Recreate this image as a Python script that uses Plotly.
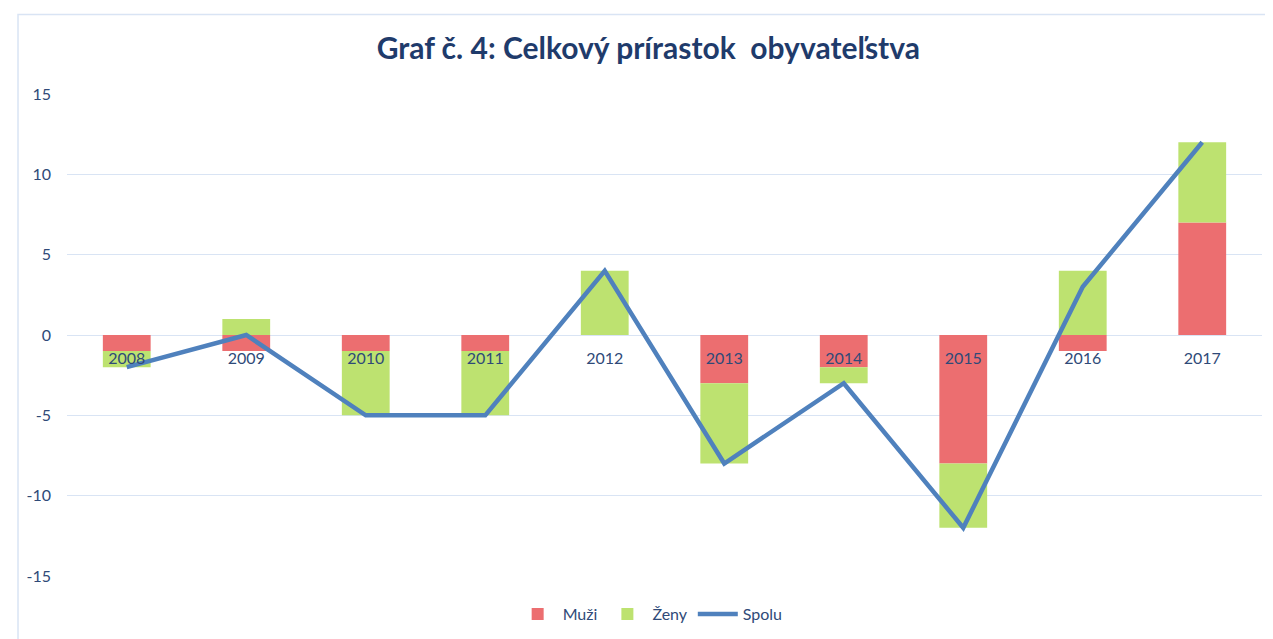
import plotly.graph_objects as go

years = ["2008", "2009", "2010", "2011", "2012", "2013", "2014", "2015", "2016", "2017"]
muzi = [-1, -1, -1, -1, 0, -3, -2, -8, -1, 7]
zeny = [-1, 1, -4, -4, 4, -5, -1, -4, 4, 5]
spolu = [-2, 0, -5, -5, 4, -8, -3, -12, 3, 12]
y_ticks = [-15, -10, -5, 0, 5, 10, 15]
y_tick_labels = ["-15", "-10", "-5", "0", "5", "10", "15"]

title_text = "Graf č. 4: Celkový prírastok  obyvateľstva"
font_family = "Lato, 'Open Sans', sans-serif"
text_color = "#2F4A78"

fig = go.Figure()
fig.add_trace(go.Bar(x=years, y=muzi, name="Muži",
                     marker=dict(color="#EC6E70", line=dict(width=0))))
fig.add_trace(go.Bar(x=years, y=zeny, name="Ženy",
                     marker=dict(color="#BDE270", line=dict(width=0))))
fig.add_trace(go.Scatter(x=years, y=spolu, name="Spolu", mode="lines",
                         line=dict(color="#4F81BD", width=4.5)))

fig.update_layout(
    width=1273, height=639,
    barmode="relative", bargap=0.6,
    paper_bgcolor="white", plot_bgcolor="white",
    margin=dict(l=59, r=19, t=86, b=71),
    title=dict(text=title_text, x=0.503, xanchor="center", y=0.937, yanchor="middle",
               font=dict(family=font_family, size=30, color="#1F3B6B", weight="bold")),
    font=dict(family=font_family, color=text_color, size=15),
    legend=dict(orientation="h", x=0.488, xanchor="center", y=-0.079, yanchor="middle",
                font=dict(size=16, color=text_color), itemwidth=40, traceorder="normal"),
    showlegend=True,
)
fig.update_xaxes(anchor="free", position=0.5, showgrid=False, showline=False,
                 ticks="", ticklabelstandoff=12, tickfont=dict(size=16, color=text_color),
                 zeroline=False)
fig.update_yaxes(range=[-15, 15], tickvals=y_ticks, ticktext=y_tick_labels,
                 showgrid=True, gridcolor="#D9E4F4",
                 gridwidth=1.3, zeroline=True, zerolinecolor="#D9E4F4", zerolinewidth=1.3,
                 ticks="", ticklabelstandoff=15, tickfont=dict(size=16, color=text_color))

fig.add_shape(type="rect", xref="paper", yref="paper", x0=-0.041, x1=1.05, y0=-0.3, y1=1.165,
              line=dict(color="#D9E4F4", width=1.5), fillcolor="rgba(0,0,0,0)", layer="below")

fig.write_html("out.html")
